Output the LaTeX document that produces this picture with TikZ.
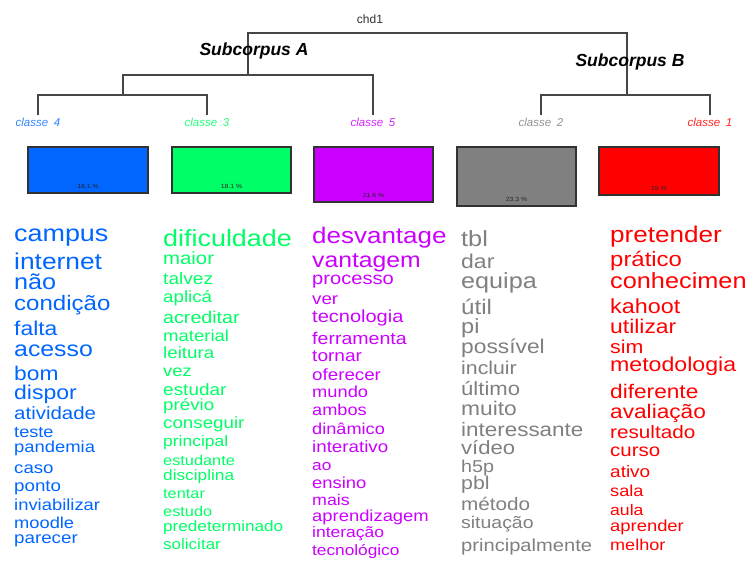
\documentclass[tikz,border=0pt]{standalone}
\usepackage{fontspec}
\setmainfont{Liberation Sans}
\newfontfamily\wordfont{Liberation Sans}[FakeStretch=1.15]
\definecolor{cblue}{RGB}{0,102,255}
\definecolor{cgreen}{RGB}{0,255,102}
\definecolor{cmag}{RGB}{204,0,255}
\definecolor{cgray}{RGB}{128,128,128}
\definecolor{cred}{RGB}{255,0,0}
\definecolor{treegray}{RGB}{70,70,70}
\definecolor{boxedge}{RGB}{50,50,50}
\begin{document}
\begin{tikzpicture}[x=1pt,y=-1pt,
  word/.style={anchor=base west, inner sep=0pt, font=\wordfont},
  tree/.style={draw=treegray, line width=1.4pt},
  clsbox/.style={draw=boxedge, line width=1.1pt},
  clslabel/.style={inner sep=0pt, font=\itshape\fontsize{11.5}{12}\selectfont},
  sublabel/.style={inner sep=0pt, font=\bfseries\itshape\fontsize{17.5}{18}\selectfont},
  pct/.style={inner sep=0pt, text=black!85, font=\wordfont\fontsize{6}{6.5}\selectfont}]
\useasboundingbox (0,0) rectangle (747,561);
\fill[white] (0,0) rectangle (747,561);

% dendrogram
\node[inner sep=0pt, text=black!80, font=\fontsize{12}{13}\selectfont] (chd) at (370,19) {chd1};
\coordinate (nA) at (248,75);
\coordinate (nB) at (627,95);
\coordinate (n43) at (123,95);
\coordinate (l4) at (38,115);
\coordinate (l3) at (207,115);
\coordinate (l5) at (373,115);
\coordinate (l2) at (541,115);
\coordinate (l1) at (710,115);
\draw[tree] (nA) -- ++(0,-42) -| (nB);
\draw[tree] (n43) |- (nA) -| (l5);
\draw[tree] (l4) |- (n43) -| (l3);
\draw[tree] (l2) |- (nB) -| (l1);
\node[sublabel] (subA) at (254,51) {Subcorpus A};
\node[sublabel] (subB) at (630,62) {Subcorpus B};

\node[clslabel, text=cblue!80] (k4) at (38,122) {classe\enspace 4};
\node[clslabel, text=cgreen!85] (k3) at (207,122) {classe\enspace 3};
\node[clslabel, text=cmag!85] (k5) at (373,122) {classe\enspace 5};
\node[clslabel, text=cgray!85] (k2) at (541,122) {classe\enspace 2};
\node[clslabel, text=cred!85] (k1) at (710,122) {classe\enspace 1};

% class size boxes
\draw[clsbox, fill=cblue] (28,147) rectangle (148,193);
\draw[clsbox, fill=cgreen] (172,147) rectangle (291,193);
\draw[clsbox, fill=cmag] (314,147) rectangle (433,202);
\draw[clsbox, fill=cgray] (457,147) rectangle (576,206);
\draw[clsbox, fill=cred] (599,147) rectangle (719,195);
\node[pct] (p4) at (88,186) {18.1 \%};
\node[pct] (p3) at (231.5,186) {18.1 \%};
\node[pct] (p5) at (373.5,195) {21.6 \%};
\node[pct] (p2) at (516.5,199) {23.3 \%};
\node[pct] (p1) at (659,188) {19 \%};

% word columns
\foreach \s/\y/\t [count=\i] in {23.4/241.7/campus, 22.9/270/internet, 21.9/290/não, 20.9/310.7/condição, 19.9/335.7/falta, 21.6/356.7/acesso, 19.8/380/bom, 20/399/dispor, 17.8/419/atividade, 15.8/437.7/teste, 16/452.3/pandemia, 16.2/473.3/caso, 16.3/491.7/ponto, 16/510/inviabilizar, 15.9/528.3/moodle, 16.3/543.5/parecer}
  \node[word, text=cblue] (wa\i) at (14,\y) {\fontsize{\s}{\s}\selectfont \t};

\foreach \s/\y/\t [count=\i] in {23.4/246.7/dificuldade, 17.7/265/maior, 16.6/285/talvez, 16.3/302.3/aplicá, 17.1/323.3/acreditar, 16.1/341.7/material, 16.3/359/leitura, 15.9/376/vez, 16.5/395/estudar, 16.3/410/prévio, 16.3/428.3/conseguir, 15.2/446.7/principal, 14.2/465/estudante, 15/480/disciplina, 14.2/498.3/tentar, 14.2/516/estudo, 14.9/531/predeterminado, 14.8/549.3/solicitar}
  \node[word, text=cgreen] (wb\i) at (163,\y) {\fontsize{\s}{\s}\selectfont \t};

\foreach \s/\y/\t [count=\i] in {22.6/243.3/desvantage, 21.5/267.5/vantagem, 17.5/284.5/processo, 16.3/304.8/ver, 17.4/322.3/tecnologia, 17/344.3/ferramenta, 16.6/361.7/tornar, 16.3/380/oferecer, 15.9/397.7/mundo, 15.8/415/ambos, 15.8/434.3/dinâmico, 16.3/452.3/interativo, 15/470/ao, 16/488.3/ensino, 15.5/505.7/mais, 16/521.7/aprendizagem, 15.2/537.7/interação, 15/555.7/tecnológico}
  \node[word, text=cmag] (wc\i) at (312,\y) {\fontsize{\s}{\s}\selectfont \t};

\foreach \s/\y/\t [count=\i] in {22/246.7/tbl, 20/268.3/dar, 21.9/288.3/equipa, 21/315/útil, 20.5/334/pi, 19.8/353.3/possível, 18.5/374.3/incluir, 19.2/395/último, 19.8/415/muito, 19.5/436.7/interessante, 19.2/454.5/vídeo, 17.2/472.5/h5p, 18.5/489/pbl, 18/510/método, 16.9/528.3/situação, 17.5/551.7/principalmente}
  \node[word, text=cgray] (wd\i) at (461,\y) {\fontsize{\s}{\s}\selectfont \t};

\foreach \s/\y/\t [count=\i] in {22.7/242.3/pretender, 20.8/266.7/prático, 22/289/conhecimen, 20.3/313.3/kahoot, 19.9/333.3/utilizar, 18.6/353.3/sim, 20.1/371.7/metodologia, 19.7/398.5/diferente, 19.7/418/avaliação, 18/438.5/resultado, 17.8/456.7/curso, 16.5/477.7/ativo, 15.8/496.7/sala, 15.3/515.5/aula, 16/531.5/aprender, 15.7/550.5/melhor}
  \node[word, text=cred] (we\i) at (610,\y) {\fontsize{\s}{\s}\selectfont \t};
\end{tikzpicture}
\end{document}
